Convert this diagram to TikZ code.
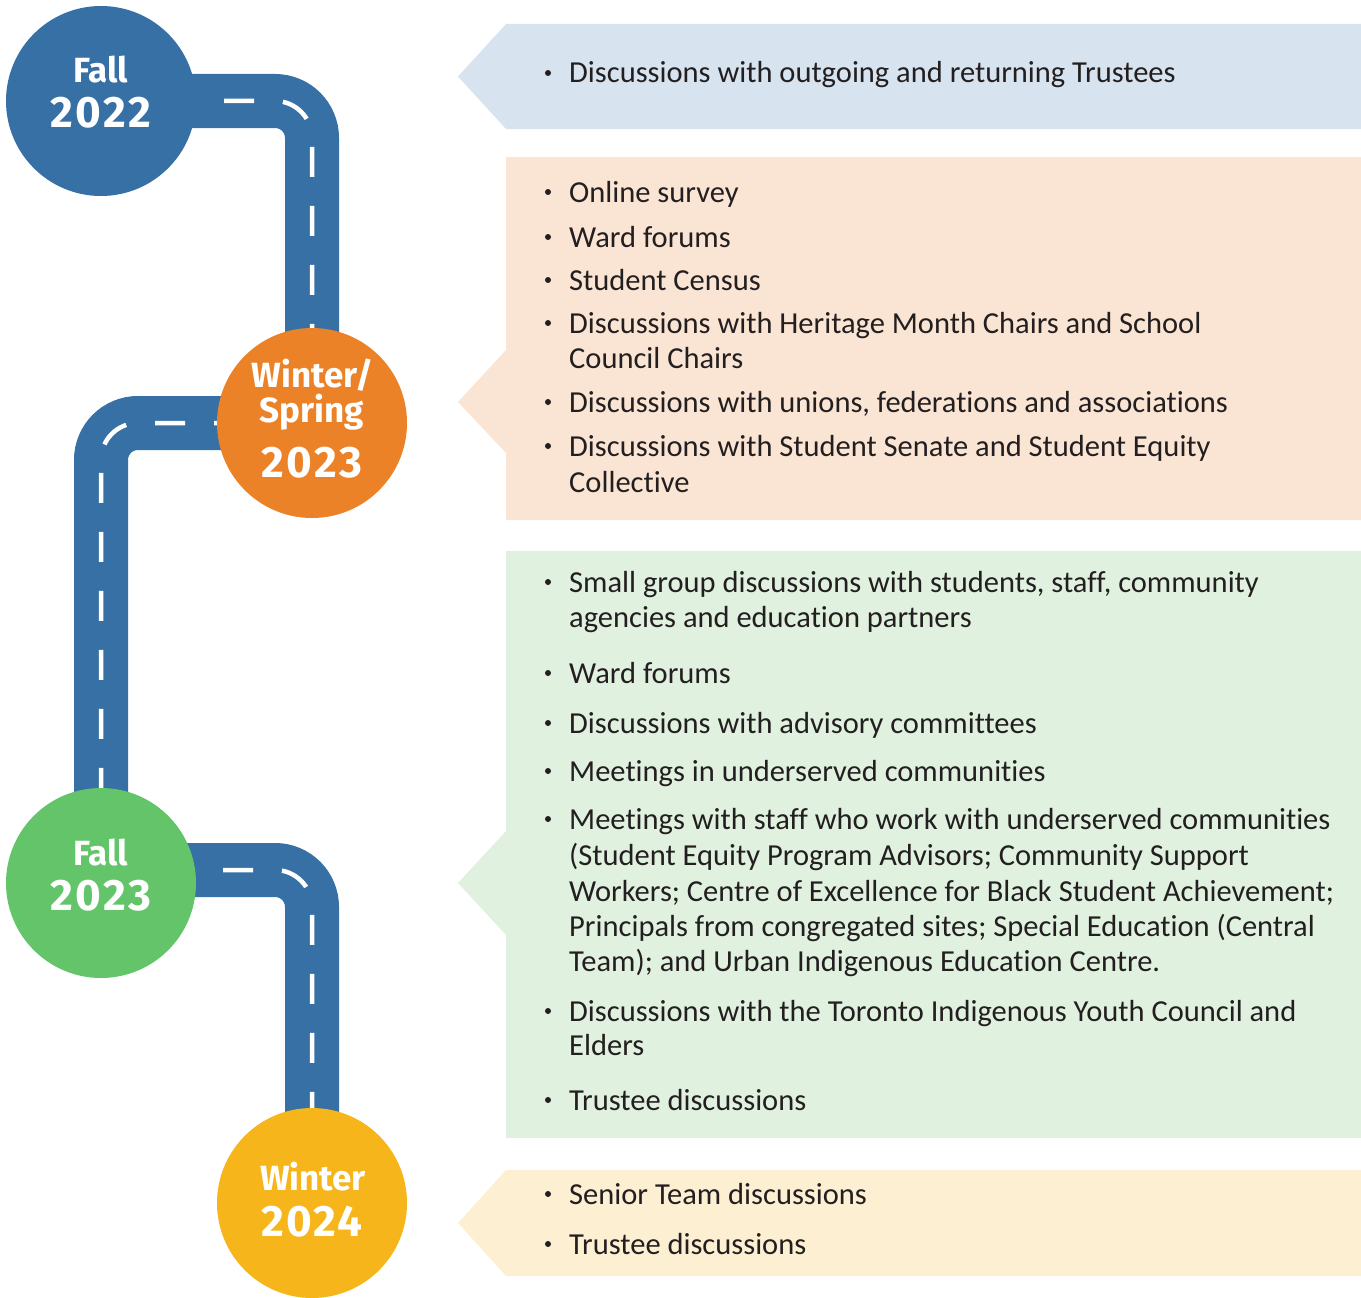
\documentclass[tikz,border=0pt]{standalone}
\usepackage{fontspec}
\setmainfont{Carlito}[Ligatures=NoCommon]
\newfontfamily\lblfont{Fira Sans}
\newfontfamily\yrfont{Fira Sans}[LetterSpace=5]
\usetikzlibrary{calc,backgrounds}
\definecolor{roadblue}{HTML}{3670A5}
\definecolor{orangec}{HTML}{EC8227}
\definecolor{greenc}{HTML}{63C46A}
\definecolor{yellowc}{HTML}{F6B61B}
\definecolor{boxblue}{HTML}{D7E3EF}
\definecolor{boxpeach}{HTML}{FAE4D3}
\definecolor{boxgreen}{HTML}{E0F1DF}
\definecolor{boxyellow}{HTML}{FDEFD2}
\definecolor{textgray}{HTML}{231F20}
\newcommand\bitem[3]{\node[bul] (#1b) at (548,#2-10) {}; \node[txt] (#1) at (569,#2) {#3};}
\newcommand\contline[3]{\node[txt] (#1) at (569,#2) {#3};}
\begin{document}
\begin{tikzpicture}[x=1pt,y=-1pt,
  road/.style={line width=54pt, draw=roadblue, rounded corners=37pt},
  lane/.style={line width=4.5pt, draw=white, rounded corners=37pt, dash pattern=on 30pt off 29pt},
  stop/.style={circle, minimum size=190pt, inner sep=0pt, outer sep=0pt},
  lbl/.style={anchor=base, inner sep=0pt, text=white, font=\lblfont\bfseries\fontsize{35}{35}\selectfont},
  yr/.style={anchor=base, inner sep=0pt, text=white, font=\yrfont\bfseries\fontsize{44}{44}\selectfont},
  txt/.style={anchor=base west, inner sep=0pt, text=textgray, font=\fontsize{30.5}{35.5}\selectfont},
  bul/.style={circle, fill=textgray, inner sep=0pt, minimum size=6pt}]
\useasboundingbox (0,0) rectangle (1361,1298);

% stops
\node[stop, fill=roadblue] (f22) at (101,101) {};
\node[stop, fill=orangec] (ws23) at (312,423) {};
\node[stop, fill=greenc] (f23) at (101,883) {};
\node[stop, fill=yellowc] (w24) at (312,1203) {};
\coordinate (r3) at ($(f23.center)+(0,-13)$);

\begin{scope}[on background layer]
\draw[road] (f22.center) -- (f22.center -| ws23.center) -- (ws23.center);
\draw[lane, dash phase=54pt] (f22.center) -- (f22.center -| ws23.center) -- (ws23.center);
\draw[road] (ws23.center) -- (ws23.center -| f23.center) -- (f23.center);
\draw[lane, dash phase=50pt] (ws23.center) -- (ws23.center -| f23.center) -- (f23.center);
\draw[road] (r3) -- (r3 -| w24.center) -- (w24.center);
\draw[lane, dash phase=55pt] (r3) -- (r3 -| w24.center) -- (w24.center);
\end{scope}

% stop labels
\node[lbl] (f22a) at (101,82) {Fall};
\node[yr] (f22b) at (101,127) {2022};
\node[lbl] (ws23a) at (313,387) {Winter/};
\node[lbl] (ws23b) at (312,422) {Spring};
\node[yr] (ws23c) at (312,477) {2023};
\node[lbl] (f23a) at (101,865) {Fall};
\node[yr] (f23b) at (101,910) {2023};
\node[lbl] (w24a) at (313,1190) {Winter};
\node[yr] (w24b) at (312,1236) {2024};

% boxes
\fill[boxblue] (506,24) -- (1361,24) -- (1361,129) -- (506,129) -- (458,76.5) -- cycle;
\fill[boxpeach] (506,157) -- (1361,157) -- (1361,520) -- (506,520) -- (506,453) -- (458,402) -- (506,350) -- cycle;
\fill[boxgreen] (506,551) -- (1361,551) -- (1361,1138) -- (506,1138) -- (506,935) -- (458,883) -- (506,831) -- cycle;
\fill[boxyellow] (506,1170) -- (1361,1170) -- (1361,1276) -- (506,1276) -- (458,1223) -- cycle;

% box 1
\bitem{a1}{83}{Discussions with outgoing and returning Trustees}
% box 2
\bitem{b1}{202}{Online survey}
\bitem{b2}{247}{Ward forums}
\bitem{b3}{290}{Student Census}
\bitem{b4}{333}{Discussions with Heritage Month Chairs and School}
\contline{b4c}{368}{Council Chairs}
\bitem{b5}{412}{Discussions with unions, federations and associations}
\bitem{b6}{456}{Discussions with Student Senate and Student Equity}
\contline{b6c}{492}{Collective}
% box 3
\bitem{c1}{592}{Small group discussions with students, staff, community}
\contline{c1c}{627}{agencies and education partners}
\bitem{c2}{683}{Ward forums}
\bitem{c3}{733}{Discussions with advisory committees}
\bitem{c4}{781}{Meetings in underserved communities}
\bitem{c5}{829}{Meetings with staff who work with underserved communities}
\contline{c5c}{865}{(Student Equity Program Advisors; Community Support}
\contline{c5d}{901}{Workers; Centre of Excellence for Black Student Achievement;}
\contline{c5e}{936}{Principals from congregated sites; Special Education (Central}
\contline{c5f}{971}{Team); and Urban Indigenous Education Centre.}
\bitem{c6}{1021}{Discussions with the Toronto Indigenous Youth Council and}
\contline{c6c}{1055}{Elders}
\bitem{c7}{1110}{Trustee discussions}
% box 4
\bitem{d1}{1204}{Senior Team discussions}
\bitem{d2}{1254}{Trustee discussions}
\end{tikzpicture}
\end{document}
